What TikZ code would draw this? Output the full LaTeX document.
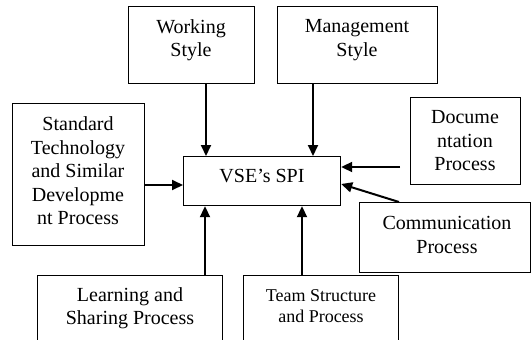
\documentclass[tikz,border=0pt]{standalone}
\usepackage{fontspec}
\setmainfont{Liberation Serif}
\usetikzlibrary{arrows.meta}
\begin{document}
\begin{tikzpicture}[x=1pt,y=-1pt,
  box/.style={draw,line width=1.2pt,inner sep=0pt,anchor=north west},
  txt/.style={align=center,inner sep=0pt,font=\fontsize{20}{23.5}\selectfont},
  smalltxt/.style={align=center,inner sep=0pt,font=\fontsize{18}{21.5}\selectfont},
  arr/.style={line width=2pt,-{Triangle[length=11pt,width=10pt]}}]
\useasboundingbox (0,0) rectangle (531,340);
\clip (0,0) rectangle (531,340);
% boxes
\node[box,minimum width=126pt,minimum height=77pt] (work) at (128,6) {};
\node[box,minimum width=160pt,minimum height=77pt] (mgmt) at (277,6) {};
\node[box,minimum width=132pt,minimum height=142pt] (std) at (12,103) {};
\node[box,minimum width=157pt,minimum height=49pt] (vse) at (183,156) {};
\node[box,minimum width=110pt,minimum height=87pt] (doc) at (410,97) {};
\node[box,minimum width=171pt,minimum height=70pt] (comm) at (359,202) {};
\node[box,minimum width=185pt,minimum height=80pt] (learn) at (37,275) {};
\node[box,minimum width=155pt,minimum height=80pt] (team) at (243,275) {};
% texts
\node[txt] (workt) at (191,40) {Working\\Style};
\node[txt] (mgmtt) at (357,40) {Management\\Style};
\node[txt] (stdt) at (78,171) {Standard\\Technology\\and Similar\\Developme\\nt Process};
\node[txt] (vset) at (262,176) {VSE’s SPI};
\node[txt] (doct) at (465,141) {Docume\\ntation\\Process};
\node[txt] (commt) at (447,235) {Communication\\Process};
\node[txt] (learnt) at (130,308) {Learning and\\Sharing Process};
\node[smalltxt] (teamt) at (321,306) {Team Structure\\and Process};
% arrows
\draw[arr] (work.south -| 206,0) -- (vse.north -| 206,0);
\draw[arr] (mgmt.south -| 313,0) -- (vse.north -| 313,0);
\draw[arr] (std.east |- 0,185) -- (vse.west |- 0,185);
\coordinate (docend) at (400,167);
\draw[arr] (docend) -- (vse.east |- docend);
\draw[arr] (comm.north -| 399,0) -- (vse.east |- 0,184);
\draw[arr] (learn.north -| 205,0) -- (vse.south -| 205,0);
\draw[arr] (team.north -| 302,0) -- (vse.south -| 302,0);
\end{tikzpicture}
\end{document}
